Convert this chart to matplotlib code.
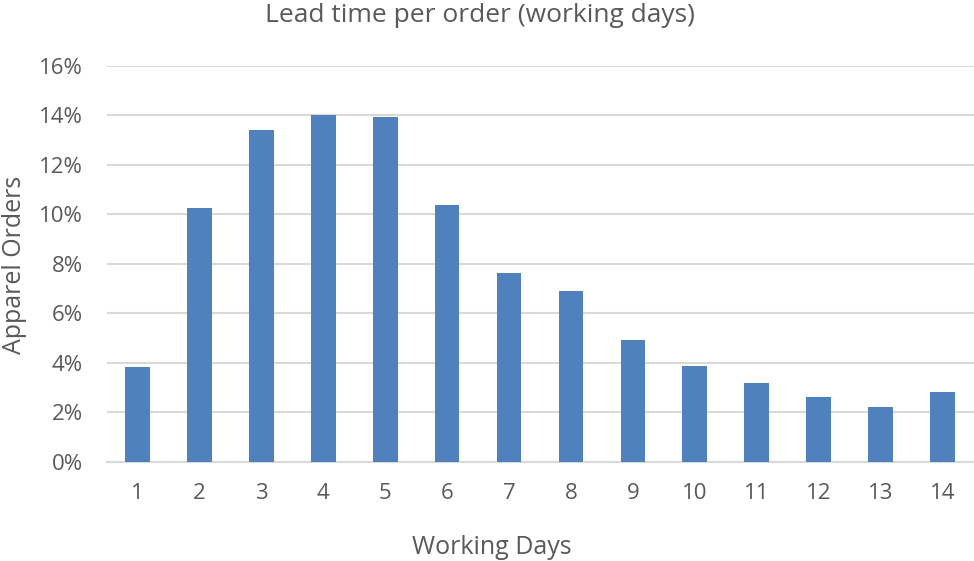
import numpy as np
import matplotlib
matplotlib.use("Agg")
import matplotlib.pyplot as plt
from matplotlib.ticker import FuncFormatter

# data
days = [1, 2, 3, 4, 5, 6, 7, 8, 9, 10, 11, 12, 13, 14]
share = [3.83, 10.25, 13.40, 14.01, 13.93, 10.37, 7.62, 6.89, 4.92, 3.87, 3.18, 2.61, 2.21, 2.82]
y_ticks = [0, 2, 4, 6, 8, 10, 12, 14, 16]

plt.rcParams['font.family'] = ['Open Sans', 'DejaVu Sans']
text_col = '#595959'
grid_col = '#d9d9d9'
bar_col = '#4f81bd'

fig = plt.figure(figsize=(9.74, 5.61), dpi=100)
W, H = 974, 561
ax = fig.add_axes([106.5 / W, (H - 461.7) / H, (973.5 - 106.5) / W, (461.7 - 65.7) / H])

ax.bar(days, share, width=0.40, color=bar_col, zorder=3)

ax.set_xlim(0.5, 14.5)
ax.set_ylim(0, 16)
ax.set_yticks(y_ticks)
ax.yaxis.set_major_formatter(FuncFormatter(lambda v, p: f'{int(v)}%'))
ax.set_xticks(days)
ax.set_xticklabels([str(d) for d in days])

ax.grid(axis='y', color=grid_col, linewidth=1.5, zorder=0)
ax.set_axisbelow(True)
for side in ['top', 'right', 'left']:
    ax.spines[side].set_visible(False)
ax.spines['bottom'].set_color(grid_col)
ax.spines['bottom'].set_linewidth(1.5)

ax.tick_params(axis='both', length=0, labelsize=16, colors=text_col)
ax.tick_params(axis='y', pad=17)
ax.tick_params(axis='x', pad=15)

fig.text(480 / W, 1 - 16 / H, 'Lead time per order (working days)', ha='center', va='center',
         fontsize=19, color=text_col)
fig.text(15 / W, 1 - 265 / H, 'Apparel Orders', ha='center', va='center', rotation=90,
         fontsize=18, color=text_col)
fig.text(492 / W, 1 - 547 / H, 'Working Days', ha='center', va='center',
         fontsize=18, color=text_col)

fig.savefig('out.png', dpi=100)
